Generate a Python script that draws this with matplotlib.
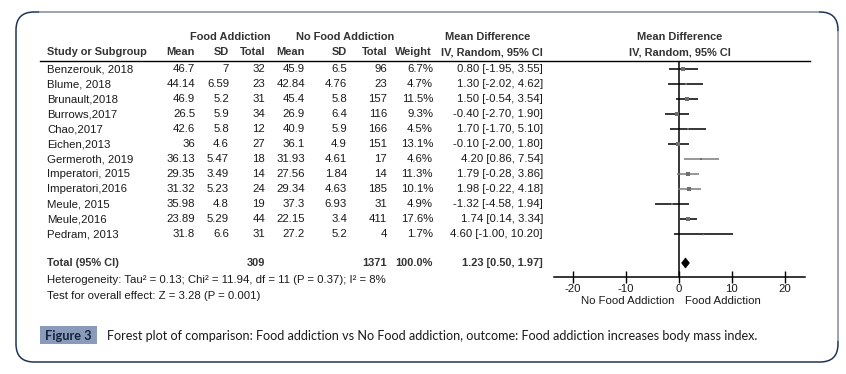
import matplotlib
matplotlib.use("Agg")
import matplotlib.pyplot as plt
from matplotlib.patches import FancyBboxPatch, Rectangle, Polygon

plt.rcParams['axes.unicode_minus'] = False

studies = ["Benzerouk, 2018", "Blume, 2018", "Brunault,2018", "Burrows,2017", "Chao,2017",
           "Eichen,2013", "Germeroth, 2019", "Imperatori, 2015", "Imperatori,2016",
           "Meule, 2015", "Meule,2016", "Pedram, 2013"]
fa_mean = [46.7, 44.14, 46.9, 26.5, 42.6, 36, 36.13, 29.35, 31.32, 35.98, 23.89, 31.8]
fa_sd = [7, 6.59, 5.2, 5.9, 5.8, 4.6, 5.47, 3.49, 5.23, 4.8, 5.29, 6.6]
fa_n = [32, 23, 31, 34, 12, 27, 18, 14, 24, 19, 44, 31]
nfa_mean = [45.9, 42.84, 45.4, 26.9, 40.9, 36.1, 31.93, 27.56, 29.34, 37.3, 22.15, 27.2]
nfa_sd = [6.5, 4.76, 5.8, 6.4, 5.9, 4.9, 4.61, 1.84, 4.63, 6.93, 3.4, 5.2]
nfa_n = [96, 23, 157, 116, 166, 151, 17, 14, 185, 31, 411, 4]
weight = [6.7, 4.7, 11.5, 9.3, 4.5, 13.1, 4.6, 11.3, 10.1, 4.9, 17.6, 1.7]
md = [0.80, 1.30, 1.50, -0.40, 1.70, -0.10, 4.20, 1.79, 1.98, -1.32, 1.74, 4.60]
ci_lo = [-1.95, -2.02, -0.54, -2.70, -1.70, -2.00, 0.86, -0.28, -0.22, -4.58, 0.14, -1.00]
ci_hi = [3.55, 4.62, 3.54, 1.90, 5.10, 1.80, 7.54, 3.86, 4.18, 1.94, 3.34, 10.20]
line_gray = [False, False, False, False, False, False, True, True, True, False, False, False]
total_fa, total_nfa = 309, 1371
total_md, total_lo, total_hi = 1.23, 0.50, 1.97
xticks = [-20, -10, 0, 10, 20]

W, H = 846, 374
fig = plt.figure(figsize=(W / 100, H / 100), dpi=100)
bg = fig.add_axes([0, 0, 1, 1])
bg.set_xlim(0, W)
bg.set_ylim(H, 0)
bg.axis('off')

# rounded frame
navy = '#1f3556'
grayb = '#a6adb8'
frame = FancyBboxPatch((16, 12), 822, 350, boxstyle="round,pad=0,rounding_size=18",
                       fc='white', ec=navy, lw=1.1)
bg.add_patch(frame)
bg.plot([40, 818], [12, 12], color=grayb, lw=1.3)
bg.plot([838, 838], [32, 340], color=grayb, lw=1.3)

fam = ['Liberation Sans', 'DejaVu Sans']
fs = 8.2
fsb = 7.9
tc = '#1a1a1a'
hc = '#333333'

def T(x, y, s, ha='left', bold=False, color=None, size=None):
    if size is None:
        size = fsb if bold else fs
    bg.text(x, y, s, ha=ha, va='center', fontsize=size, family=fam,
            fontweight='bold' if bold else 'normal', color=color or (hc if bold else tc))

# headers
T(230, 37, "Food Addiction", ha='center', bold=True)
T(345, 37, "No Food Addiction", ha='center', bold=True)
T(488, 37, "Mean Difference", ha='center', bold=True)
T(680, 37, "Mean Difference", ha='center', bold=True)
T(47, 52, "Study or Subgroup", bold=True)
T(195, 52, "Mean", ha='right', bold=True)
T(229, 52, "SD", ha='right', bold=True)
T(265, 52, "Total", ha='right', bold=True)
T(305, 52, "Mean", ha='right', bold=True)
T(347, 52, "SD", ha='right', bold=True)
T(387, 52, "Total", ha='right', bold=True)
T(432, 52, "Weight", ha='right', bold=True)
T(543, 52, "IV, Random, 95% CI", ha='right', bold=True)
T(680, 52, "IV, Random, 95% CI", ha='center', bold=True)
bg.plot([40, 810], [61, 61], color='black', lw=1)

row_y = [69 + 15 * i for i in range(len(studies))]
for i, y in enumerate(row_y):
    T(47, y, studies[i])
    T(195, y, f"{fa_mean[i]:g}", ha='right')
    T(229, y, f"{fa_sd[i]:g}", ha='right')
    T(265, y, f"{fa_n[i]}", ha='right')
    T(305, y, f"{nfa_mean[i]:g}", ha='right')
    T(347, y, f"{nfa_sd[i]:g}", ha='right')
    T(387, y, f"{nfa_n[i]}", ha='right')
    T(433, y, f"{weight[i]:.1f}%", ha='right')
    T(543, y, f"{md[i]:.2f} [{ci_lo[i]:.2f}, {ci_hi[i]:.2f}]", ha='right')

ty = 263
T(47, ty, "Total (95% CI)", bold=True)
T(265, ty, f"{total_fa}", ha='right', bold=True)
T(387, ty, f"{total_nfa}", ha='right', bold=True)
T(433, ty, f"{sum(weight):.1f}%", ha='right', bold=True)
T(543, ty, f"{total_md:.2f} [{total_lo:.2f}, {total_hi:.2f}]", ha='right', bold=True)
T(47, 280, "Heterogeneity: Tau\u00b2 = 0.13; Chi\u00b2 = 11.94, df = 11 (P = 0.37); I\u00b2 = 8%")
T(47, 296, "Test for overall effect: Z = 3.28 (P = 0.001)")

# forest axes
x0, x1 = 554, 805
ytop, ybot = 61, 277
ax = fig.add_axes([x0 / W, (H - ybot) / H, (x1 - x0) / W, (ybot - ytop) / H])
ax.set_xlim(-23.6, 23.8)
ax.set_ylim(ybot, ytop)
ax.patch.set_alpha(0)
for s in ['top', 'left', 'right']:
    ax.spines[s].set_visible(False)
ax.spines['bottom'].set_linewidth(1.1)
ax.set_yticks([])
ax.set_xticks(xticks)
ax.set_xticklabels([f"{t}" for t in xticks], family=fam, fontsize=fs, color=tc)
ax.tick_params(axis='x', direction='inout', length=8, width=1, pad=1)
ax.axvline(0, color='black', lw=1.1)

for i, y in enumerate(row_y):
    c = '#7a7a7a' if line_gray[i] else 'black'
    ax.plot([ci_lo[i], ci_hi[i]], [y, y], color=c, lw=1.1, solid_capstyle='butt')
    ms = 0.85 * weight[i] ** 0.5
    ax.plot(md[i], y, 's', ms=ms, color='#6e6e6e', mec='#6e6e6e', mew=0)

dia = Polygon([(total_lo, ty), (total_md, ty - 5), (total_hi, ty), (total_md, ty + 5)],
              closed=True, fc='black', ec='black', lw=0.5)
ax.add_patch(dia)

T(628, 301, "No Food Addiction", ha='center')
T(723, 301, "Food Addiction", ha='center')

# caption
bg.add_patch(Rectangle((40, 326), 57, 18, fc='#8a9aba', ec='none'))
bg.text(68.5, 335.5, "Figure 3", ha='center', va='center', fontsize=9.2, family=['Lato', 'DejaVu Sans'],
        fontweight='bold', color='#14233a')
bg.text(107, 335.5, "Forest plot of comparison: Food addiction vs No Food addiction, outcome: Food addiction increases body mass index.",
        ha='left', va='center', fontsize=9.05, family=['Lato', 'DejaVu Sans'], color='#1a1a1a')

fig.savefig("out.png", dpi=100)
